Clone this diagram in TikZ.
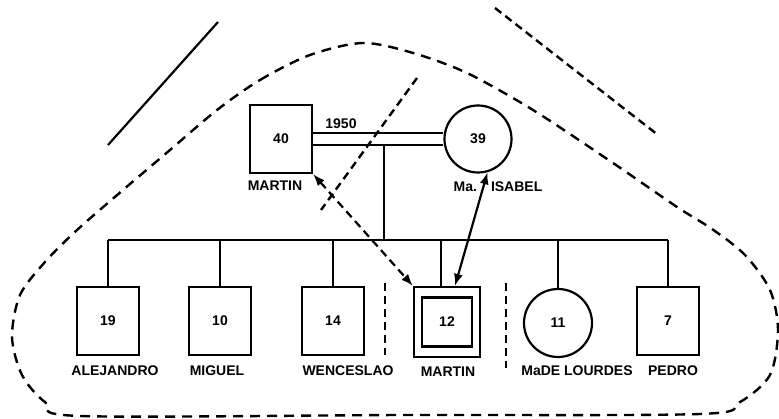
\documentclass[tikz,border=0pt]{standalone}
\usepackage{fontspec}
\setmainfont{Liberation Sans}
\usetikzlibrary{arrows.meta, positioning}

\tikzset{
  male/.style={draw, rectangle, line width=2.2pt, minimum width=62pt, minimum height=68pt, inner sep=0pt, font=\bfseries\fontsize{14}{14}\selectfont},
  female/.style={draw, circle, line width=2.2pt, minimum size=67pt, inner sep=0pt, font=\bfseries\fontsize{14}{14}\selectfont},
  lbl/.style={inner sep=0pt, font=\bfseries\fontsize{14}{14}\selectfont},
  hull/.style={line width=2.4pt, dash pattern=on 10pt off 7pt},
  sepline/.style={line width=2.4pt, dash pattern=on 8pt off 5pt},
  link/.style={line width=2.2pt, {Latex[length=12pt,width=9pt]}-{Latex[length=12pt,width=9pt]}},
}

\begin{document}
\begin{tikzpicture}[x=1pt, y=-1pt, line width=2.2pt]
  \useasboundingbox (0,0) rectangle (779,419);

  % parents
  \node[male] (f) at (281,139) {40};
  \node[female] (m) at (478,139) {39};
  \node[lbl] (fname) at (275,186) {MARTIN};
  \node[lbl] (mname) at (498,187) {Ma.\hspace{14pt}ISABEL};
  \node[lbl] (year) at (341,124) {1950};

  % marriage (double line)
  \draw ([yshift=6pt]f.east) -- ([yshift=6pt]f.east -| m.west);
  \draw ([yshift=-6pt]f.east) -- ([yshift=-6pt]f.east -| m.west);
  \coordinate (mar) at (384,145);
  \coordinate (sib) at (384,240);
  \draw (mar) -- (sib);

  % children
  \node[male] (c19) at (108,321) {19};
  \node[male] (c10) at (220,321) {10};
  \node[male] (c14) at (333,321) {14};
  \node[male, minimum width=66pt, minimum height=70pt] (c12) at (447,322) {};
  \node[male, minimum width=50pt, minimum height=49pt] (c12in) at (c12) {12};
  \node[female, minimum size=68pt] (c11) at (558,323) {11};
  \node[male] (c7) at (668,321) {7};

  \node[lbl] (n19) at (115,371) {ALEJANDRO};
  \node[lbl] (n10) at (217,371) {MIGUEL};
  \node[lbl] (n14) at (348,371) {WENCESLAO};
  \node[lbl] (n12) at (448,372) {MARTIN};
  \node[lbl] (n11) at (577,371) {MaDE LOURDES};
  \node[lbl] (n7) at (673,371) {PEDRO};

  % sibship line
  \draw (c19.north |- sib) -- (c7.north |- sib);
  \foreach \c in {c19,c10,c14,c11,c7}
    \draw (\c.north |- sib) -- (\c.north);
  \draw ([xshift=-6pt]c12.north |- sib) -- ([xshift=-6pt]c12.north);

  % arrows to index case
  \draw[link, dash pattern=on 8pt off 5pt] (f.south east) -- (c12.north west);
  \draw[link] (m.-74) -- ([xshift=8pt]c12.north);

  % separators
  \draw[sepline] (385,283) -- (385,355);
  \draw[sepline] (506,283) -- (506,368);
  \draw[sepline] (417,78) -- (321,210);
  \draw[sepline] (495,8) -- (658,135);
  \draw (108,145) -- (218,22);

  % enclosing line
  \draw[hull] plot[smooth cycle, tension=0.5] coordinates {
    (217,110) (260,80) (310,55) (363,43) (413,53) (467,73) (533,110)
    (613,163) (677,207) (712,229) (745,255) (770,290) (778,330)
    (770,375) (740,402) (700,414) (400,415) (80,416) (45,402)
    (22,375) (12,337) (20,295) (45,262) (77,230) (123,190) (170,150)};
\end{tikzpicture}
\end{document}
